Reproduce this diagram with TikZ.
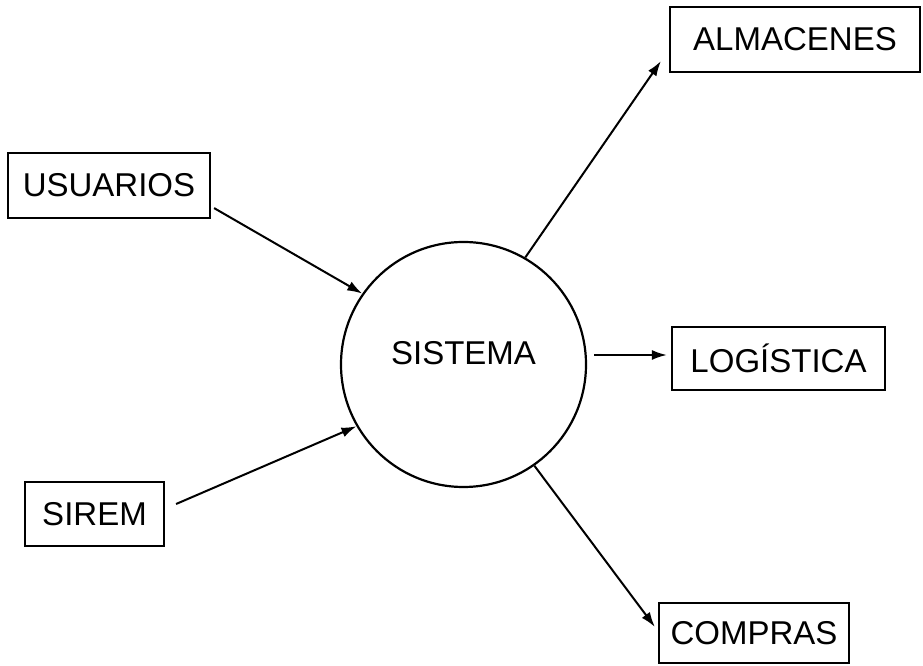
\documentclass[tikz,border=0pt]{standalone}
\usepackage{fontspec}
\setmainfont{Liberation Sans}
\usetikzlibrary{arrows.meta}
\begin{document}
\begin{tikzpicture}[x=1pt,y=1pt,
  box/.style={draw, line width=2.2pt, rectangle, inner sep=0pt, font=\fontsize{33}{38}\selectfont},
  arr/.style={line width=2pt, -{Latex[length=15pt,width=10pt]}}]
\useasboundingbox (0,0) rectangle (923,666);
\node[box, minimum width=202pt, minimum height=65pt] (usu) at (109,480.5) {USUARIOS};
\node[box, minimum width=139pt, minimum height=64pt] (sir) at (94.5,152) {SIREM};
\node[draw, circle, line width=2.2pt, minimum size=245pt, inner sep=0pt,
  label={[yshift=11.5pt, font=\fontsize{33}{38}\selectfont]center:SISTEMA}] (sis) at (463.5,301.5) {};
\node[box, minimum width=250pt, minimum height=65pt] (alm) at (795,626.5) {ALMACENES};
\node[box, minimum width=213pt, minimum height=63pt] (log) at (778.5,307.5) {LOGÍSTICA};
\node[box, minimum width=190pt, minimum height=60pt] (comp) at (754,33) {COMPRAS};
\draw[arr] ([xshift=3pt,yshift=11pt]usu.south east) -- (sis.145);
\draw[arr] ([xshift=11pt,yshift=10pt]sir.east) -- (sis.210);
\draw[arr] (sis.60) -- ([xshift=-8pt,yshift=12pt]alm.south west);
\draw[arr] ([shift={(7pt,9.5pt)}]sis.east) -- ([shift={(-4pt,3.5pt)}]log.west);
\draw[arr] (sis.-55) -- ([xshift=-3pt,yshift=6pt]comp.west);
\end{tikzpicture}
\end{document}
